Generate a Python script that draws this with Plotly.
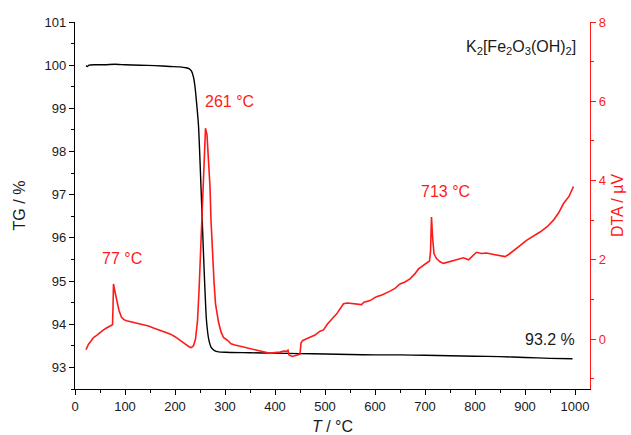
import plotly.graph_objects as go

# Thermogravimetric curve: temperature (°C) and remaining mass (%)
tg_temp = [22, 25, 28, 40, 60, 80, 100, 130, 160, 190, 210, 222, 228, 233, 237, 240,
           243, 247, 252, 257, 263, 268, 273, 279, 287, 300, 350, 400, 450,
           500, 550, 600, 650, 700, 750, 800, 850, 900, 950, 995]
tg_mass = [99.99, 99.97, 100.00, 100.01, 100.01, 100.02, 100.01, 100.00, 99.99, 99.97,
           99.96, 99.94, 99.92, 99.86, 99.72, 99.50, 99.15, 98.60, 97.18, 95.63, 94.08,
           93.62, 93.45, 93.39, 93.36, 93.35, 93.34, 93.33, 93.32, 93.31,
           93.30, 93.29, 93.29, 93.28, 93.27, 93.26, 93.25, 93.23, 93.21, 93.20]

# Differential thermal analysis signal: temperature (°C) and DTA (µV)
dta_temp = [22, 24, 27, 32, 37, 44, 50, 57, 63, 68, 73, 75, 76, 77, 79, 83, 88, 93, 98,
            103, 113, 123, 135, 147, 157, 170, 180, 190, 200, 210, 217, 224, 230, 233,
            237, 241, 245, 248, 251, 253, 255, 258, 261, 264, 266, 268, 270, 272, 275,
            278, 281, 284, 287, 292, 297, 305, 312, 320, 330, 337, 345, 355, 363, 372,
            380, 390, 400, 410, 418, 423, 426, 428, 435, 442, 448, 450, 452, 455, 462,
            470, 480, 490, 497, 505, 510, 517, 523, 530, 537, 545, 557, 565, 573, 578,
            590, 603, 615, 630, 640, 650, 660, 670, 680, 687, 695, 703, 709, 711, 713,
            715, 718, 723, 730, 737, 747, 757, 767, 777, 787, 795, 803, 813, 823, 835,
            850, 860, 868, 877, 890, 903, 915, 930, 945, 957, 967, 977, 988, 997]
dta_signal = [-0.27, -0.22, -0.13, -0.05, 0.04, 0.10, 0.17, 0.23, 0.28, 0.31, 0.34, 0.36,
              0.80, 1.39, 1.25, 0.97, 0.72, 0.55, 0.49, 0.46, 0.43, 0.40, 0.37, 0.33, 0.28,
              0.22, 0.18, 0.13, 0.06, -0.03, -0.09, -0.16, -0.21, -0.21, -0.17, 0.00,
              0.46, 1.20, 2.15, 3.00, 3.84, 4.70, 5.32, 5.15, 4.80, 4.35, 3.84, 3.00, 2.15,
              1.45, 0.89, 0.62, 0.43, 0.18, 0.04, -0.03, -0.12, -0.15, -0.18, -0.20,
              -0.22, -0.25, -0.28, -0.30, -0.33, -0.36, -0.34, -0.33, -0.30, -0.31, -0.28,
              -0.40, -0.44, -0.42, -0.40, -0.38, -0.10, -0.04, 0.00, 0.04, 0.10, 0.20, 0.23,
              0.38, 0.46, 0.55, 0.63, 0.75, 0.89, 0.91, 0.90, 0.89, 0.87, 0.93, 0.97, 1.07,
              1.12, 1.21, 1.28, 1.39, 1.44, 1.52, 1.65, 1.77, 1.84, 1.90, 1.97, 2.20, 3.08,
              2.60, 2.15, 2.03, 1.95, 1.91, 1.95, 1.98, 2.01, 2.05, 2.00, 2.10, 2.19, 2.16,
              2.17, 2.14, 2.11, 2.08, 2.14, 2.24, 2.36, 2.49, 2.58, 2.70, 2.84, 3.00, 3.18,
              3.42, 3.60, 3.85]

# Peak labels (temperature, DTA) and final mass label
peak_temps = [77, 261, 713]
peak_values = [1.39, 5.32, 3.08]
final_mass = 93.2

RED = "#ff1a1a"
INK = "#1a1a1a"
FONT = "Liberation Sans, Arial, sans-serif"

fig = go.Figure()
fig.add_trace(go.Scatter(x=tg_temp, y=tg_mass, mode="lines", line_shape="spline",
                         line=dict(color="black", width=1.4, smoothing=0.6),
                         yaxis="y", showlegend=False))
fig.add_trace(go.Scatter(x=dta_temp, y=dta_signal, mode="lines",
                         line=dict(color=RED, width=1.6), yaxis="y2", showlegend=False))

# Peak annotations above each DTA maximum
label_offsets = [(17, 0.39), (-5, 0.41), (27, 0.37)]
for t, v, (dx, dy) in zip(peak_temps, peak_values, label_offsets):
    fig.add_annotation(x=t + dx, y=v + dy, xref="x", yref="y2",
                       text=f"{t} °C", showarrow=False,
                       font=dict(color=RED, size=16, family=FONT),
                       xanchor="center" if t != 261 else "left", yanchor="bottom")

fig.add_annotation(x=1003, y=final_mass + 0.2, xref="x", yref="y",
                   text=f"{final_mass} %", showarrow=False, xanchor="right", yanchor="bottom",
                   font=dict(color=INK, size=16, family=FONT))
fig.add_annotation(x=0.977, y=0.93, xref="paper", yref="paper",
                   text="K<sub>2</sub>[Fe<sub>2</sub>O<sub>3</sub>(OH)<sub>2</sub>]",
                   showarrow=False, xanchor="right", yanchor="middle",
                   font=dict(color=INK, size=16, family=FONT))

# Temperature axis title, set low in the bottom margin
fig.add_annotation(x=0.5, y=-0.1035, xref="paper", yref="paper",
                   text="<i>T</i> / °C", showarrow=False, xanchor="center", yanchor="middle",
                   font=dict(color=INK, size=16, family=FONT))

tickfont = dict(size=13, family=FONT, color=INK)
titlefont = dict(size=16, family=FONT, color=INK)
fig.update_layout(
    width=631, height=435,
    margin=dict(l=75, r=41, t=22, b=46, autoexpand=False),
    paper_bgcolor="white", plot_bgcolor="white",
    font=dict(family=FONT, color=INK),
    xaxis=dict(range=[0, 1030], tick0=0, dtick=100, ticks="outside", ticklen=5,
               tickwidth=1, tickcolor="black", showline=True, linecolor="black",
               linewidth=1.2, showgrid=False, zeroline=False, tickfont=tickfont,
               automargin=False,
               minor=dict(dtick=50, ticks="outside", ticklen=3, tickcolor="black")),
    xaxis2=dict(range=[0, 1030], overlaying="x", side="top", anchor="y",
                tick0=0, dtick=50, ticks="inside", ticklen=4, tickcolor="black",
                showline=True, linecolor="black", linewidth=1.2, automargin=False,
                showticklabels=False, showgrid=False, zeroline=False),
    yaxis=dict(range=[92.5, 101], tick0=93, dtick=1, ticks="outside", ticklen=5,
               tickcolor="black", showline=True, linecolor="black", linewidth=1.2,
               showgrid=False, zeroline=False, tickfont=tickfont, automargin=False,
               minor=dict(dtick=0.5, ticks="outside", ticklen=3, tickcolor="black"),
               title=dict(text="TG / %", font=titlefont, standoff=14)),
    yaxis2=dict(range=[-1.26, 8], overlaying="y", side="right", tick0=0, dtick=2,
                ticks="outside", ticklen=5, tickcolor=RED, showline=True,
                linecolor=RED, linewidth=1.2, showgrid=False, zeroline=False,
                automargin=False, tickfont=dict(size=13, family=FONT, color=RED),
                minor=dict(dtick=1, ticks="outside", ticklen=3, tickcolor=RED),
                title=dict(text="DTA / µV", font=dict(size=16, family=FONT, color=RED),
                           standoff=6)),
)

fig.write_html("out.html")
